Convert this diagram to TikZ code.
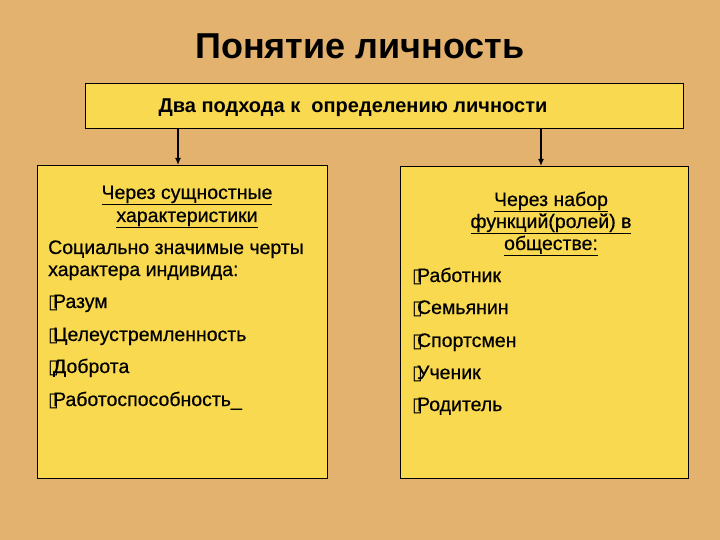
\documentclass[tikz,border=0pt]{standalone}
\usepackage{fontspec}
\setmainfont{Liberation Sans}
\newfontfamily\symfont{DejaVu Sans}
\newfontfamily\bodyfont[FakeBold=0.5]{Liberation Sans}
\usetikzlibrary{arrows.meta}
\definecolor{backtan}{RGB}{227,178,110}
\definecolor{boxyellow}{RGB}{249,217,80}
\newcommand{\boxbul}{{\symfont\char"25AF}\kern-0.3em}

\begin{document}
\begin{tikzpicture}[x=1pt,y=-1pt]
	\tikzstyle{panel}=[draw=black,line width=1.1pt,fill=boxyellow,anchor=north west,inner sep=0pt]
	\tikzstyle{body}=[anchor=base west,inner sep=0pt,font=\bodyfont\fontsize{19.5}{22}\selectfont]
	\tikzstyle{head}=[anchor=base,inner sep=0pt,font=\bodyfont\fontsize{19.5}{22}\selectfont]
	\tikzstyle{arr}=[line width=1.6pt,-{Latex[length=7pt,width=6pt]}]
	\fill[backtan] (0,0) rectangle (720,540);
	\useasboundingbox (0,0) rectangle (720,540);
	\node[anchor=base,inner sep=0pt,font=\bfseries\fontsize{36}{40}\selectfont] (title) at (360,59) {Понятие личность};
	\node[panel,minimum width=598pt,minimum height=45pt] (approach) at (85,83) {};
	\node[anchor=base,inner sep=0pt,font=\bfseries\fontsize{20}{23}\selectfont] (approachtxt) at (353,113) {Два подхода к\ \ определению личности};
	\node[panel,minimum width=290pt,minimum height=313pt] (essence) at (37,165) {};
	\node[panel,minimum width=288pt,minimum height=312pt] (roles) at (400,166) {};
	\coordinate (esstip) at (178,165);
	\coordinate (roletip) at (541,166);
	\draw[arr] (esstip |- approach.south) -- (esstip);
	\draw[arr] (roletip |- approach.south) -- (roletip);
	% left panel
	\node[head] (ess1) at (187,199) {\underline{Через сущностные}};
	\node[head] (ess2) at (187,222) {\underline{характеристики}};
	\node[body] (soc1) at (48,254) {Социально значимые черты};
	\node[body] (soc2) at (48,276) {характера индивида:};
	\node[body] (trait1) at (48,308) {\boxbul Разум};
	\node[body] (trait2) at (48,341) {\boxbul Целеустремленность};
	\node[body] (trait3) at (48,373) {\boxbul Доброта};
	\node[body] (trait4) at (48,406) {\boxbul Работоспособность\_};
	% right panel
	\node[head] (role1) at (551,206) {\underline{Через набор}};
	\node[head] (role2) at (551,228) {\underline{функций(ролей) в}};
	\node[head] (role3) at (551,250) {\underline{обществе:}};
	\node[body] (job1) at (412,282) {\boxbul Работник};
	\node[body] (job2) at (412,314) {\boxbul Семьянин};
	\node[body] (job3) at (412,347) {\boxbul Спортсмен};
	\node[body] (job4) at (412,379) {\boxbul Ученик};
	\node[body] (job5) at (412,411) {\boxbul Родитель};
\end{tikzpicture}
\end{document}
